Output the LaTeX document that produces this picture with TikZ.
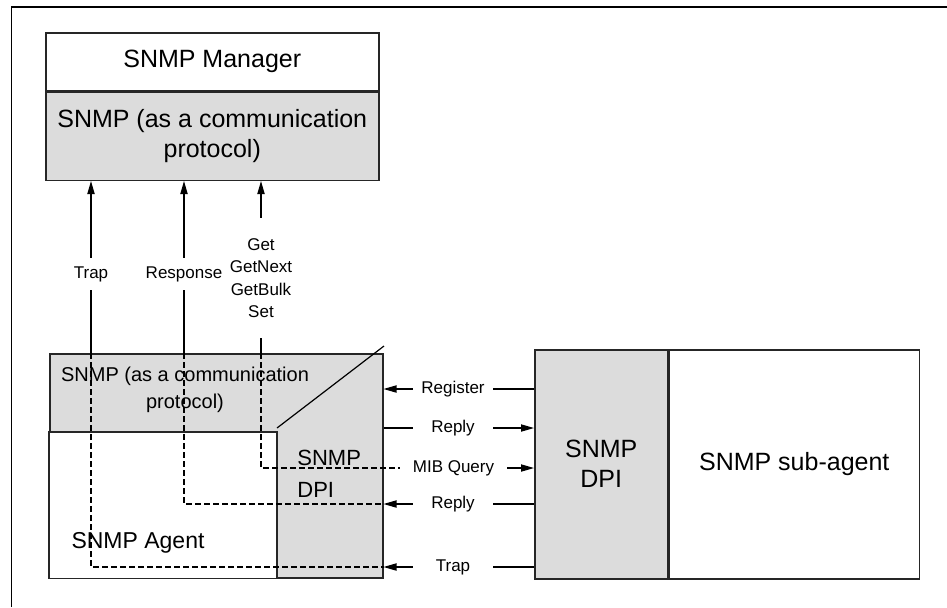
\documentclass[tikz,border=0pt]{standalone}
\usepackage{fontspec}
\setmainfont{Liberation Sans}
\usetikzlibrary{arrows.meta}
\definecolor{protogray}{RGB}{220,220,220}

\begin{document}
\begin{tikzpicture}[x=0.5pt,y=-0.5pt,
    box/.style={draw=black!85,line width=0.75pt,inner sep=0pt,align=center,anchor=north west},
    msg/.style={font=\fontsize{8.5}{11.2}\selectfont,inner sep=0pt,minimum width=40pt,align=center},
    link/.style={line width=0.6pt},
    flow/.style={link,-{Triangle[length=6.5pt,width=3.6pt]}},
    dashline/.style={link,dash pattern=on 3pt off 1.5pt}]
  \useasboundingbox (0,0) rectangle (947,607);
  \draw[line width=0.75pt] (11.7,607) -- (11.7,7) -- (947,7);

  % manager
  \node[box,minimum width=166.5pt,minimum height=29pt,font=\fontsize{12.5}{15}\selectfont] (mgr) at (45,32) {SNMP Manager};
  \node[box,fill=protogray,minimum width=166.5pt,minimum height=44pt,font=\fontsize{12.5}{15}\selectfont] (mproto) at (mgr.south west) {SNMP (as a communication\\protocol)};

  % agent
  \node[box,fill=protogray,minimum width=166.5pt,minimum height=112pt] (agent) at (49,353) {};
  \draw[draw=black!85,line width=0.75pt,fill=white] (agent.south west) rectangle (277,432);
  \draw[link] (277,428) -- (384,346);
  \node[font=\fontsize{10}{13.5}\selectfont,align=center] (aproto) at (185,390) {SNMP (as a communication\\protocol)};
  \node[font=\fontsize{11}{16}\selectfont,align=left,anchor=west,inner sep=0pt] (adpi) at (297,474) {SNMP\\DPI};
  \node[font=\fontsize{11.5}{14}\selectfont] (aname) at (138,543) {SNMP Agent};

  % dpi and sub-agent
  \node[box,fill=protogray,minimum width=66.5pt,minimum height=114.5pt,font=\fontsize{12.5}{15}\selectfont] (dpi) at (534,349) {SNMP\\DPI};
  \node[box,minimum width=125pt,minimum height=114.5pt,font=\fontsize{12.5}{15}\selectfont] (sub) at (dpi.north east) {SNMP sub-agent};

  % messages agent <-> dpi
  \node[msg] (reg) at (453,389) {Register};
  \node[msg] (rep1) at (453,428) {Reply};
  \node[msg,minimum width=53.5pt] (mib) at (453.5,468) {MIB Query};
  \node[msg] (rep2) at (453,504) {Reply};
  \node[msg] (trp) at (453,567) {Trap};

  % messages agent -> manager
  \node[msg,minimum height=16pt] (mtrap) at (91,274) {Trap};
  \node[msg,minimum height=16pt] (mresp) at (184,274) {Response};
  \node[msg,minimum height=60pt] (mget) at (261,278) {Get\\GetNext\\GetBulk\\Set};

  \draw[flow] (reg.west) -- (reg.west -| agent.east);
  \draw[link] (reg.east) -- (reg.east -| dpi.west);
  \draw[link] (rep1.west -| agent.east) -- (rep1.west);
  \draw[flow] (rep1.east) -- (rep1.east -| dpi.west);
  \draw[flow] (mib.east) -- (mib.east -| dpi.west);
  \draw[flow] (rep2.west) -- (rep2.west -| agent.east);
  \draw[link] (rep2.east) -- (rep2.east -| dpi.west);
  \draw[flow] (trp.west) -- (trp.west -| agent.east);
  \draw[link] (trp.east) -- (trp.east -| dpi.west);

  \draw[flow] (mtrap.north) -- (mtrap.north |- mproto.south);
  \draw[link] (mtrap.south) -- (mtrap.south |- agent.north);
  \draw[dashline] (mtrap.south |- agent.north) -- (mtrap |- trp) -- (trp.west -| agent.east);
  \draw[flow] (mresp.north) -- (mresp.north |- mproto.south);
  \draw[link] (mresp.south) -- (mresp.south |- agent.north);
  \draw[dashline] (mresp.south |- agent.north) -- (mresp |- rep2) -- (rep2.west -| agent.east);
  \draw[flow] (mget.north) -- (mget.north |- mproto.south);
  \draw[link] (mget.south) -- (mget.south |- agent.north);
  \draw[dashline] (mget.south |- agent.north) -- (mget |- mib) -- (mib.west);
\end{tikzpicture}
\end{document}
